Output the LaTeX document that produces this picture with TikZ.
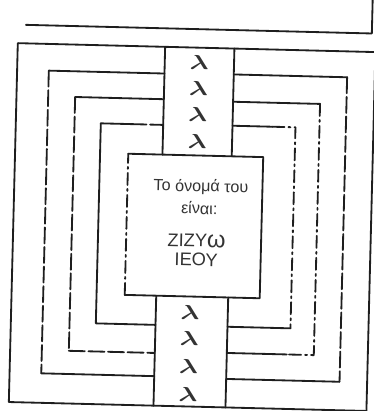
\documentclass[tikz,border=0pt]{standalone}
\usepackage{amsmath}
\usepackage{fontspec}
\newfontfamily\boxfont{Liberation Sans}
\definecolor{inkline}{HTML}{1E1E1E}
\definecolor{inktext}{HTML}{333333}

\begin{document}
\begin{tikzpicture}[x=0.25mm, y=-0.25mm,
    wall/.style={draw=inkline, line width=1.3pt, line cap=round, line join=round},
    gapwall/.style={wall, dash pattern=on 4mm off 0.9mm},
    dotwall/.style={wall, dash pattern=on 3mm off 1mm on 0.5mm off 1mm},
    lam/.style={font=\fontsize{14}{14}\selectfont, text=inktext, inner sep=0pt},
    txt/.style={text=inktext, inner sep=0pt, align=center, transform shape}
]
\useasboundingbox (0,0) rectangle (374,411);
\clip (0,0) rectangle (374,411);
\begin{scope}[rotate around={-1.43:(190,225)}]
% ---- TOP RULE ----
\draw[wall] (21,29) -- (367,29) -- (367,-20);

% ---- OUTER FRAME ----
\draw[wall] (13.3,47.5) rectangle (371,406.5);

% ---- CORRIDOR ----
\draw[wall] (160.7,47.5) -- (160.7,155.3);
\draw[wall] (230,47.5) -- (230,155.3);
\draw[wall] (158,296.5) -- (158,406.5);
\draw[wall] (230,296.5) -- (230,406.5);

% ---- LEFT BRACKETS ----
\draw[wall] (160.7,74.2) -- (45,74.2);
\draw[gapwall] (45,74.2) -- (45,377);
\draw[wall] (45,377) -- (158,377);

\draw[wall] (160.7,99.9) -- (72,99.9);
\draw[gapwall] (72,99.9) -- (72,353.8);
\draw[gapwall] (72,353.8) -- (158,353.8);

\draw[wall] (98.3,125.6) -- (128,125.6);
\draw[gapwall] (128,125.6) -- (160.7,125.6);
\draw[wall] (98.3,125.6) -- (98.3,325.7) -- (158,325.7);

% ---- RIGHT BRACKETS ----
\draw[wall] (230,73.4) -- (343.4,73.4);
\draw[gapwall] (343.4,73.4) -- (343.4,378);
\draw[wall] (343.4,378) -- (230,378);

\draw[wall] (230,100.7) -- (317,100.7);
\draw[dotwall] (317,100.7) -- (317,352) -- (290,352);
\draw[wall] (290,352) -- (230,352);

\draw[wall] (230,124.7) -- (270,124.7);
\draw[dotwall] (270,124.7) -- (293,124.7) -- (293,325.8);
\draw[wall] (293,325.8) -- (230,325.8);

% ---- NAME BOX ----
\draw[wall] (126.5,155.3) -- (261.5,155.3) -- (261.5,296.5) -- (126.5,296.5);
\draw[dotwall] (126.5,296.5) -- (126.5,155.3);

\node[txt, anchor=base, font=\boxfont\fontsize{11.5}{12}\selectfont] (t1) at (200,191.4) {Το όνομά του};
\node[txt, anchor=base, font=\boxfont\fontsize{11.5}{12}\selectfont] (t2) at (198.9,213.8) {είναι:};
\node[txt, font=\boxfont\fontsize{13}{13.6}\selectfont] (t3) at (197,250) {ΖΙΖΥ\scalebox{1.3}{ω}\\ΙΕΟΥ};

% ---- LAMBDAS ----
\foreach \y [count=\i] in {61.8,87.8,114.8,141.5}
  \node[lam] (lt\i) at (195,\y) {\scalebox{1.4}[1]{$\boldsymbol{\lambda}$}};
\foreach \y [count=\i] in {312,338,366,394}
  \node[lam] (lb\i) at (192,\y) {\scalebox{1.4}[1]{$\boldsymbol{\lambda}$}};
\end{scope}
\end{tikzpicture}
\end{document}
